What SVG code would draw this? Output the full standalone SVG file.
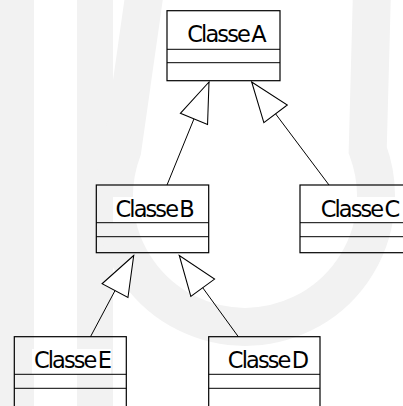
<svg xmlns="http://www.w3.org/2000/svg" width="403" height="406" viewBox="0 0 403 406">
<style>
.wm{fill:#f2f2f2;stroke:none}
.ring{fill:none;stroke:#f2f2f2;stroke-width:38}
.box{fill:none;stroke:#000;stroke-width:1.2}
.div{stroke:#000;stroke-width:1}
.bg{fill:#fff;stroke:none}
.lbl{font-family:"DejaVu Sans","Liberation Sans",sans-serif;font-size:22.5px;letter-spacing:-1.9px;word-spacing:-3px;fill:#000;text-anchor:middle}
.edge{stroke:#000;stroke-width:1;fill:none;marker-end:url(#gen)}
</style>
<defs>
<marker id="gen" markerUnits="userSpaceOnUse" markerWidth="44" markerHeight="34" viewBox="-40 -16 42 32" refX="0" refY="0" orient="auto">
<path d="M0,0 L-38,-14 L-38,14 Z" fill="#fff" stroke="#000" stroke-width="1"/>
</marker>
</defs>
<rect width="403" height="406" fill="#fff"/>
<g id="watermark">
<rect class="wm" x="0" y="0" width="34" height="406"/>
<rect class="wm" x="77" y="0" width="36" height="406"/>
<path class="ring" d="M145,-10 L122.3,150 A131,131 0 1 0 367.7,150 L372,-10"/>
</g>
<g id="connectors">
<line class="edge" x1="167" y1="185" x2="209" y2="82"/>
<line class="edge" x1="329" y1="185" x2="251.7" y2="82"/>
<line class="edge" x1="90.5" y1="336.7" x2="133.7" y2="255.5"/>
<line class="edge" x1="238.3" y1="336.7" x2="179.3" y2="255.5"/>
</g>
<g id="ClasseA">
<rect class="bg" x="185" y="22" width="80" height="27"/>
<rect class="box" x="167" y="10.7" width="113" height="70"/>
<line class="div" x1="167" y1="49.3" x2="280" y2="49.3"/>
<line class="div" x1="167" y1="62.7" x2="280" y2="62.7"/>
<text class="lbl" x="226" y="41.5">Classe A</text>
</g>
<g id="ClasseB">
<rect class="bg" x="113" y="197" width="80" height="25.5"/>
<rect class="box" x="96.3" y="185" width="112.4" height="67.7"/>
<line class="div" x1="96.3" y1="222.7" x2="208.7" y2="222.7"/>
<line class="div" x1="96.3" y1="236.7" x2="208.7" y2="236.7"/>
<text class="lbl" x="154.2" y="216.5">Classe B</text>
</g>
<g id="ClasseC">
<rect class="bg" x="317" y="197" width="86" height="25.5"/>
<rect class="box" x="300" y="185" width="113" height="67.7"/>
<line class="div" x1="300" y1="222.7" x2="413" y2="222.7"/>
<line class="div" x1="300" y1="236.7" x2="413" y2="236.7"/>
<text class="lbl" x="359.5" y="216.5">Classe C</text>
</g>
<g id="ClasseE">
<rect class="bg" x="32" y="349" width="79" height="25"/>
<rect class="box" x="14.3" y="336.7" width="112" height="80"/>
<line class="div" x1="14.3" y1="374.3" x2="126.3" y2="374.3"/>
<line class="div" x1="14.3" y1="388.3" x2="126.3" y2="388.3"/>
<text class="lbl" x="72" y="368">Classe E</text>
</g>
<g id="ClasseD">
<rect class="bg" x="225" y="349" width="83" height="25"/>
<rect class="box" x="208.7" y="336.7" width="111.3" height="80"/>
<line class="div" x1="208.7" y1="374.3" x2="320" y2="374.3"/>
<line class="div" x1="208.7" y1="388.3" x2="320" y2="388.3"/>
<text class="lbl" x="267.5" y="368">Classe D</text>
</g>
</svg>
